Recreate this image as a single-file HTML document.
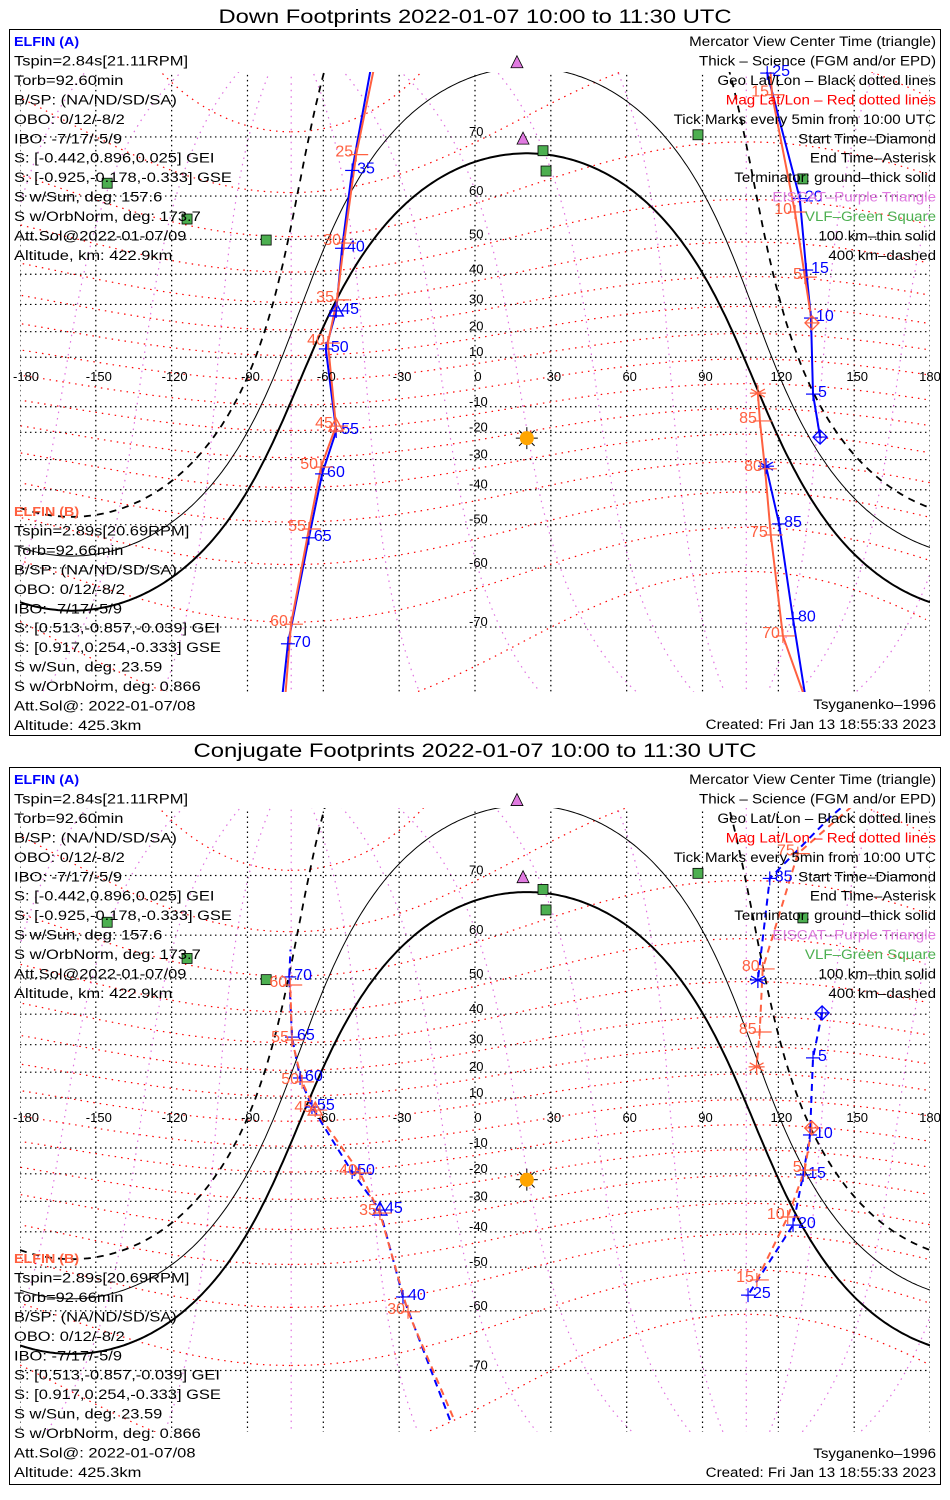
<!DOCTYPE html>
<html><head><meta charset="utf-8"><title>ELFIN Footprints</title>
<style>
html,body{margin:0;padding:0;background:#fff;}
svg{display:block;font-family:"Liberation Sans",sans-serif;}
</style></head>
<body>
<svg id="chart" width="950" height="1500" viewBox="0 0 950 1500" xmlns="http://www.w3.org/2000/svg">
  <defs>
    <clipPath id="clip0"><rect x="20" y="72" width="910" height="620"/></clipPath>
    <clipPath id="clip1"><rect x="20" y="808" width="910" height="624"/></clipPath>
  </defs>
  <rect width="950" height="1500" fill="#fff"/>
</svg>
<script>
// ---------- DATA ----------
const lonTicks = [-180,-150,-120,-90,-60,-30,0,30,60,90,120,150,180];
const latTicks = [-70,-60,-50,-40,-30,-20,-10,10,20,30,40,50,60,70];
const magLatLines = [-70,-60,-50,-40,-30,-20,-10,0,10,20,30,40,50,60,70,80];
const magLonLines = [0,30,60,90,120,150,180,210,240,270,300,330];
const magPoleLat = 80.7, magPoleLon = -72.7;
const sunDecl = -22.4, sunLon = 20.5, sunLat = -22.2;
const termDips = [0, 10.1, 19.7]; // ground, 100 km, 400 km
const vlfLon = [26.9, 28.1, 88.2, 129.7, -145.5, -113.9, -82.6];
const vlfLat = [68.0, 64.7, 70.3, 63.3, 62.5, 55.0, 49.8];
const eiscatLon = [19.0, 16.6];
const eiscatLat = [69.7, 78.1];

// Down footprints, ELFIN A
const dnA1Lon = [136.5,133.7,132.9,131.0,128.5,115.6,114.0];
const dnA1Lat = [-21.8,-4.9,25.1,41.3,59.5,77.2,80];
const dnA1Lbl = ['','5','10','15','20','25',''];
const dnA1Mk  = ['d','','','','','',''];
const dnA2Lon = [-39.0,-48.6,-52.6,-54.9,-59.0,-54.9,-60.5,-65.7,-74.0,-77.5];
const dnA2Lat = [80,64.8,47.6,27.7,13.3,-19.5,-34.9,-53.3,-72.2,-80];
const dnA2Lbl = ['','35','40','45','50','55','60','65','70',''];
const dnA2Mk  = ['','','','t','','','','','',''];
const dnA3Lon = [132.5,125.8,120.3,115.1];
const dnA3Lat = [-80,-68.8,-49.8,-32.3];
const dnA3Lbl = ['','80','85',''];
const dnA3Mk  = ['','','','a'];
// Down footprints, ELFIN B
const dnB1Lon = [133.3,130.5,126.6,117.5,116.0];
const dnB1Lat = [23.3,39.1,56.6,75.1,80];
const dnB1Lbl = ['','5','10','15',''];
const dnB1Mk  = ['d','','','',''];
const dnB2Lon = [-37.5,-47.0,-51.8,-54.6,-58.2,-55.0,-60.9,-65.7,-72.8,-76.0];
const dnB2Lat = [80,67.4,49.0,31.6,15.6,-17.6,-32.6,-51.1,-69.6,-80];
const dnB2Lbl = ['','25','30','35','40','45','50','55','60',''];
const dnB2Mk  = ['','','','','','t','','','',''];
const dnB3Lon = [134.5,121.8,117.0,114.7,112.7,111.9];
const dnB3Lat = [-80,-71.2,-52.6,-33.2,-15.6,-4.5];
const dnB3Lbl = ['','70','75','80','85',''];
const dnB3Mk  = ['','','','','','a'];
// Conjugate footprints, ELFIN A
const cjA1Lon = [137.3,133.7,132.5,129.8,125.8,108.0];
const cjA1Lat = [40.4,25.3,-4.8,-20.4,-37.9,-56.7];
const cjA1Lbl = ['','5','10','15','20','25'];
const cjA1Mk  = ['d','','','','',''];
const cjA2Lon = [-9.9,-28.5,-37.6,-48.6,-64.5,-69.2,-72.4,-73.5,-73.0];
const cjA2Lat = [-75.8,-57.1,-33.0,-19.3,6.4,17.8,32.6,50.5,57.0];
const cjA2Lbl = ['','40','45','50','55','60','65','70',''];
const cjA2Mk  = ['','','t','','','','','',''];
const cjA3Lon = [148.2,140.3,116.6,111.9];
const cjA3Lat = [78.1,76.6,69.6,49.7];
const cjA3Lbl = ['','','85',''];
const cjA3Mk  = ['','','','a'];
// Conjugate footprints, ELFIN B
const cjB1Lon = [133.2,130.4,123.7,111.5];
const cjB1Lat = [-2.0,-18.6,-35.3,-53.2];
const cjB1Lbl = ['','5','10','15'];
const cjB1Mk  = ['d','','',''];
const cjB2Lon = [-8.7,-26.5,-37.6,-45.5,-63.2,-68.4,-72.4,-73.1];
const cjB2Lat = [-75.5,-60.2,-34.0,-19.7,5.2,16.3,31.6,48.4];
const cjB2Lbl = ['','30','35','40','45','50','55','60'];
const cjB2Mk  = ['','','','','t','','',''];
const cjB3Lon = [149.0,127.7,113.8,112.6,111.4];
const cjB3Lat = [77.6,72.8,52.5,34.3,22.0];
const cjB3Lbl = ['','75','80','85',''];
const cjB3Mk  = ['','','','','a'];

const infoA = ['Tspin=2.84s[21.11RPM]','Torb=92.60min','B/SP: (NA/ND/SD/SA)','OBO: 0/12/-8/2','IBO: -7/17/-5/9','S: [-0.442,0.896,0.025] GEI','S: [-0.925,-0.178,-0.333] GSE','S w/Sun, deg: 157.6','S w/OrbNorm, deg: 173.7','Att.Sol@2022-01-07/09','Altitude, km: 422.9km'];
const infoB = ['Tspin=2.89s[20.69RPM]','Torb=92.66min','B/SP: (NA/ND/SD/SA)','OBO: 0/12/-8/2','IBO: -7/17/-5/9','S: [0.513,-0.857,-0.039] GEI','S: [0.917,0.254,-0.333] GSE','S w/Sun, deg: 23.59','S w/OrbNorm, deg: 0.866','Att.Sol@: 2022-01-07/08','Altitude: 425.3km'];
const legendText = ['Mercator View Center Time (triangle)','Thick \u2013 Science (FGM and/or EPD)','Geo Lat/Lon \u2013 Black dotted lines','Mag Lat/Lon \u2013 Red dotted lines','Tick Marks every 5min from 10:00 UTC','Start Time\u2013Diamond','End Time\u2013Asterisk','Terminator: ground\u2013thick solid','EISCAT\u2013Purple Triangle','VLF\u2013Green Square','100 km\u2013thin solid','400 km\u2013dashed'];
const legendColor = ['#000','#000','#000','#ff0000','#000','#000','#000','#000','#e07ae0','#4caf50','#000','#000'];

// ---------- RENDER ----------
const NS = 'http://www.w3.org/2000/svg';
const svg = document.getElementById('chart');
const BLUE = '#0000ff', ORANGE = '#ff6040';
const D2R = Math.PI/180;

function mk(tag, attrs, parent){
  const e = document.createElementNS(NS, tag);
  for (const k in attrs) e.setAttribute(k, attrs[k]);
  (parent||svg).appendChild(e);
  return e;
}
function txt(parent, x, y, s, size, color, anchor, extra){
  const t = mk('text', {x:x, y:y, 'font-size':size, fill:color, 'text-anchor':anchor||'start'}, parent);
  if (extra) for (const k in extra) t.setAttribute(k, extra[k]);
  t.textContent = s;
  return t;
}
function widen(t, f){
  try {
    const L = t.getComputedTextLength();
    if (L > 0){ t.setAttribute('textLength', (L*f).toFixed(1)); t.setAttribute('lengthAdjust', 'spacingAndGlyphs'); }
  } catch(e){}
}

const panels = [
  {title:'Down Footprints 2022-01-07 10:00 to 11:30 UTC', titleY:23, boxY:29, boxH:706, eq:382, k:141.2, clip:'clip0',
   infoAY:41, infoBY:511, legY:41, tsyY:704, creY:724, prefix:'dn'},
  {title:'Conjugate Footprints 2022-01-07 10:00 to 11:30 UTC', titleY:757, boxY:767, boxH:717, eq:1123, k:142.6, clip:'clip1',
   infoAY:779, infoBY:1258, legY:779, tsyY:1453, creY:1472, prefix:'cj'}
];
const tracks = {
  dn: {A:[[dnA1Lon,dnA1Lat,dnA1Lbl,dnA1Mk],[dnA2Lon,dnA2Lat,dnA2Lbl,dnA2Mk],[dnA3Lon,dnA3Lat,dnA3Lbl,dnA3Mk]],
       B:[[dnB1Lon,dnB1Lat,dnB1Lbl,dnB1Mk],[dnB2Lon,dnB2Lat,dnB2Lbl,dnB2Mk],[dnB3Lon,dnB3Lat,dnB3Lbl,dnB3Mk]]},
  cj: {A:[[cjA1Lon,cjA1Lat,cjA1Lbl,cjA1Mk],[cjA2Lon,cjA2Lat,cjA2Lbl,cjA2Mk],[cjA3Lon,cjA3Lat,cjA3Lbl,cjA3Mk]],
       B:[[cjB1Lon,cjB1Lat,cjB1Lbl,cjB1Mk],[cjB2Lon,cjB2Lat,cjB2Lbl,cjB2Mk],[cjB3Lon,cjB3Lat,cjB3Lbl,cjB3Mk]]}
};

function magToGeo(mlat, mlon){
  const x = Math.cos(mlat*D2R)*Math.cos(mlon*D2R), y = Math.cos(mlat*D2R)*Math.sin(mlon*D2R), z = Math.sin(mlat*D2R);
  const th = (90-magPoleLat)*D2R;
  const x1 = x*Math.cos(th)+z*Math.sin(th), z1 = -x*Math.sin(th)+z*Math.cos(th);
  const lp = magPoleLon*D2R;
  const x2 = x1*Math.cos(lp)-y*Math.sin(lp), y2 = x1*Math.sin(lp)+y*Math.cos(lp);
  return [Math.atan2(y2,x2)/D2R, Math.asin(Math.max(-1,Math.min(1,z1)))/D2R];
}
function termLat(lon, dip){
  const A = Math.sin(sunDecl*D2R), B = Math.cos(sunDecl*D2R)*Math.cos((lon-sunLon)*D2R), C = -Math.sin(dip*D2R);
  const R = Math.hypot(A,B), phi = Math.atan2(B,A), s = Math.asin(C/R);
  for (const cand of [s-phi, Math.PI-s-phi]){
    for (const off of [0, 2*Math.PI, -2*Math.PI]){
      const L = cand+off;
      if (L >= -Math.PI/2 && L <= Math.PI/2) return L/D2R;
    }
  }
  return null;
}

panels.forEach((P, pi) => {
  const X = lon => 475 + lon*2.528;
  const Y = lat => P.eq - P.k*Math.log(Math.tan(Math.PI/4 + Math.max(-85,Math.min(85,lat))*D2R/2));
  const g = mk('g', {});
  
  

  const title = txt(g, 475, P.titleY, P.title, 19, '#000', 'middle', {textLength: pi===0?513:563, lengthAdjust:'spacingAndGlyphs'});
  
  
  const box = mk('rect', {x:9.5, y:P.boxY+0.5, width:931, height:P.boxH, fill:'none', stroke:'#000', 'stroke-width':1}, g);
  
  

  const map = mk('g', {'clip-path':'url(#'+P.clip+')'}, g);
  
  

  magLonLines.forEach(ml => {
    let segs = [], cur = [], prev = null;
    for (let la = -88; la <= 88; la += 1){
      const [lo, lt] = magToGeo(la, ml);
      if (prev !== null && Math.abs(lo-prev) > 180){ segs.push(cur); cur = []; }
      cur.push(X(lo).toFixed(1)+','+Y(lt).toFixed(1)); prev = lo;
    }
    segs.push(cur);
    segs.forEach(s => { if (s.length>1){
      const p = mk('polyline', {points:s.join(' '), fill:'none', stroke:'#e070e0', 'stroke-width':1.2, 'stroke-dasharray':'1.5,5'}, map);
      
      
    }});
  });
  magLatLines.forEach(ml => {
    let segs = [], cur = [], prev = null;
    for (let lo = 0; lo <= 360; lo += 2){
      const [glo, glt] = magToGeo(ml, lo);
      if (prev !== null && Math.abs(glo-prev) > 180){ segs.push(cur); cur = []; }
      cur.push(X(glo).toFixed(1)+','+Y(glt).toFixed(1)); prev = glo;
    }
    segs.push(cur);
    segs.forEach(s => { if (s.length>1){
      const p = mk('polyline', {points:s.join(' '), fill:'none', stroke:'#ff0000', 'stroke-width':1.2, 'stroke-dasharray':'1.5,5'}, map);
      
      
    }});
  });
  lonTicks.forEach(lo => {
    const l = mk('line', {x1:X(lo), x2:X(lo), y1:Y(85), y2:Y(-85), stroke:'#000', 'stroke-width':1.2, 'stroke-dasharray':'1.5,3.5'}, map);
    
    
  });
  latTicks.forEach(la => {
    const l = mk('line', {x1:X(-180), x2:X(180), y1:Y(la), y2:Y(la), stroke:'#000', 'stroke-width':1.2, 'stroke-dasharray':'1.5,3.5'}, map);
    
    
  });
  termDips.forEach((dip, di) => {
    const pts = [];
    for (let lo = -180; lo <= 180; lo += 1){
      const la = termLat(lo, dip);
      if (la !== null) pts.push(X(lo).toFixed(1)+','+Y(la).toFixed(1));
    }
    const attrs = {points:pts.join(' '), fill:'none', stroke:'#000', 'stroke-width': di===0?2:1};
    if (di===2){ attrs['stroke-dasharray']='7,6'; attrs['stroke-width']=1.8; }
    const p = mk('polyline', attrs, map);
    
    
  });
  lonTicks.forEach(lo => {
    let x = X(lo)+3; if (lo===-180) x = 26; if (lo===180) x = 930;
    const t = txt(g, x, P.eq-1, String(lo), 13, '#000', 'middle');
    
    
  });
  latTicks.forEach(la => {
    const t = txt(g, 469, Y(la)-1, String(la), 13, '#000', 'start');
    
    
  });
  vlfLon.forEach((lo, i) => {
    const r = mk('rect', {x:X(lo)-5, y:Y(vlfLat[i])-5, width:10, height:10, fill:'#4caf50', stroke:'#000', 'stroke-width':0.8}, g);
    
    
  });
  eiscatLon.forEach((lo, i) => {
    const x = X(lo), y = Y(eiscatLat[i]);
    const p = mk('polygon', {points:`${x},${y-7} ${x-6},${y+5} ${x+6},${y+5}`, fill:'#e07ae0', stroke:'#000', 'stroke-width':0.8}, g);
    
    
  });
  const sx = X(sunLon), sy = Y(sunLat);
  const sun = mk('g', {}, g);
  
  
  for (let a = 0; a < 360; a += 45){
    mk('line', {x1:sx+6*Math.cos(a*D2R), y1:sy+6*Math.sin(a*D2R), x2:sx+11*Math.cos(a*D2R), y2:sy+11*Math.sin(a*D2R), stroke:'#000', 'stroke-width':1}, sun);
  }
  mk('circle', {cx:sx, cy:sy, r:7, fill:'#ffa500'}, sun);

  ['A','B'].forEach(sat => {
    const col = sat==='A'?BLUE:ORANGE;
    tracks[P.prefix][sat].forEach(seg => {
      const [lons, lats, lbls, mks] = seg;
      const pts = lons.map((lo,i) => X(lo).toFixed(1)+','+Y(lats[i]).toFixed(1));
      const attrs = {points:pts.join(' '), fill:'none', stroke:col, 'stroke-width':2};
      if (P.prefix==='cj') attrs['stroke-dasharray'] = '7,5';
      const pl = mk('polyline', attrs, map);
      
      
      lons.forEach((lo, i) => {
        const x = X(lo), y = Y(lats[i]);
        if (lbls[i]){
          const tk = mk('g', {}, g);
          
          
          mk('line', {x1:x-7, x2:x+(sat==='A'?7:12), y1:y, y2:y, stroke:col, 'stroke-width':1.2}, tk);
          mk('line', {x1:x, x2:x, y1:y-7, y2:y+7, stroke:col, 'stroke-width':1.2}, tk);
          const t = sat==='A' ? txt(g, x+5, y+3, lbls[i], 16, col, 'start') : txt(g, x-3, y+2, lbls[i], 16, col, 'end');
          
          
        }
        if (mks[i]==='d'){
          const m = mk('g', {}, g);
          
          
          mk('polygon', {points:`${x},${y-7} ${x+7},${y} ${x},${y+7} ${x-7},${y}`, fill:'none', stroke:col, 'stroke-width':1.3}, m);
          mk('line', {x1:x-7, x2:x+7, y1:y, y2:y, stroke:col, 'stroke-width':1.2}, m);
          mk('line', {x1:x, x2:x, y1:y-7, y2:y+7, stroke:col, 'stroke-width':1.2}, m);
        } else if (mks[i]==='a'){
          const m = mk('g', {}, g);
          
          
          for (let a = 0; a < 180; a += 60){
            mk('line', {x1:x-8*Math.cos((a+90)*D2R), y1:y-8*Math.sin((a+90)*D2R), x2:x+8*Math.cos((a+90)*D2R), y2:y+8*Math.sin((a+90)*D2R), stroke:col, 'stroke-width':1.3}, m);
          }
          mk('line', {x1:x-8, x2:x+8, y1:y, y2:y, stroke:col, 'stroke-width':1.2}, m);
        } else if (mks[i]==='t'){
          const m = mk('polygon', {points:`${x},${y-8} ${x-7},${y+5} ${x+7},${y+5}`, fill:'none', stroke:col, 'stroke-width':1.4}, g);
          
          
        }
      });
    });
  });

  const hA = txt(g, 14, P.infoAY+5, 'ELFIN (A)', 13, BLUE, 'start', {'font-weight':'bold'});
  
  
  widen(hA, 1.1);
  infoA.forEach((s, i) => {
    const t = txt(g, 14, P.infoAY+5+19.45*(i+1), s, 13.5, '#000');
    
    
    widen(t, 1.22);
  });
  const hB = txt(g, 14, P.infoBY+5, 'ELFIN (B)', 13, ORANGE, 'start', {'font-weight':'bold'});
  
  
  widen(hB, 1.1);
  infoB.forEach((s, i) => {
    const t = txt(g, 14, P.infoBY+5+19.45*(i+1), s, 13.5, '#000');
    
    
    widen(t, 1.22);
  });
  legendText.forEach((s, i) => {
    const t = txt(g, 936, P.legY+5+19.45*i, s, 13.5, legendColor[i], 'end');
    
    
    widen(t, 1.12);
  });
  const ts = txt(g, 936, P.tsyY+5, 'Tsyganenko\u20131996', 13.5, '#000', 'end');
  
  
  widen(ts, 1.12);
  const cr = txt(g, 936, P.creY+5, 'Created: Fri Jan 13 18:55:33 2023', 13.5, '#000', 'end');
  
  
  widen(cr, 1.12);
});
</script>
</body></html>
